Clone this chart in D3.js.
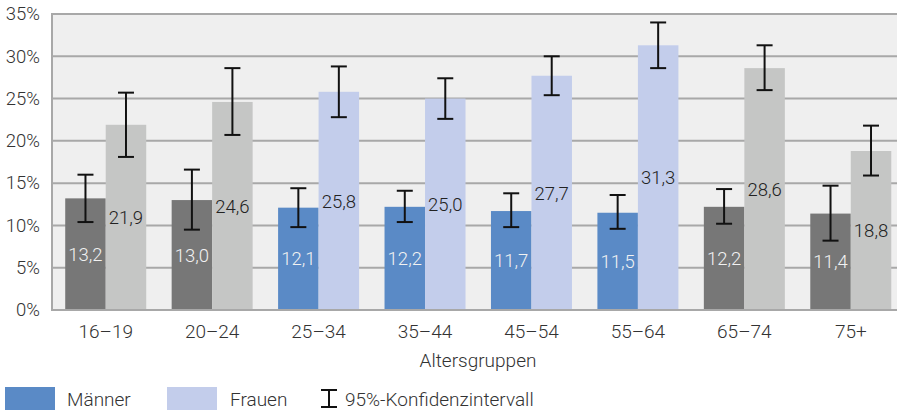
<!DOCTYPE html>
<html><head><meta charset="utf-8">
<script src="https://cdn.jsdelivr.net/npm/d3@7"></script>
<style>
html,body{margin:0;padding:0;background:#fff;}
svg{display:block;font-family:Roboto,"Noto Sans",sans-serif;}
</style></head>
<body><svg id="c" width="897" height="410"></svg>
<script>
const categories = ["16–19","20–24","25–34","35–44","45–54","55–64","65–74","75+"];
const maenner = [13.2,13.0,12.1,12.2,11.7,11.5,12.2,11.4];
const frauen  = [21.9,24.6,25.8,25.0,27.7,31.3,28.6,18.8];
const maennerLo = [10.4,9.5,9.8,10.4,9.8,9.6,10.2,8.2];
const maennerHi = [16.0,16.6,14.4,14.1,13.8,13.6,14.3,14.7];
const frauenLo  = [18.1,20.7,22.8,22.6,25.4,28.6,26.0,15.9];
const frauenHi  = [25.7,28.6,28.8,27.4,30.0,34.0,31.3,21.8];
const highlighted = [false,false,true,true,true,true,false,false];
const yTicks = [0,5,10,15,20,25,30,35];
const fmt = v => v.toFixed(1).replace(".", ",");

(function(){
const svg = d3.select("#c");
const pL = 52, pR = 897, pT = 14, pB = 310;
const y = d3.scaleLinear().domain([0,35]).range([pB, pT]);
const x = d3.scaleBand().domain(categories).range([52.5, 904]).padding(0);
const bw = 40.5;
const FS = 19;

const col = {
  mGray:"#777777", fGray:"#c5c6c5", mBlue:"#5a8ac6", fBlue:"#c3cdeb"
};

svg.append("rect").attr("x",pL).attr("y",pT).attr("width",pR-pL).attr("height",pB-pT).attr("fill","#efefef");

svg.append("g").selectAll("line").data(yTicks).join("line")
  .attr("x1",pL).attr("x2",pR)
  .attr("y1",d=>y(d)).attr("y2",d=>y(d))
  .attr("stroke","#a8a8a8").attr("stroke-width",2);
svg.append("line").attr("x1",pL).attr("x2",pL).attr("y1",pT-1).attr("y2",pB+1)
  .attr("stroke","#a8a8a8").attr("stroke-width",2);

svg.append("g").selectAll("text").data(yTicks).join("text")
  .attr("x",40).attr("y",d=>y(d)).attr("dy","0.34em")
  .attr("text-anchor","end").attr("font-size",18.5).attr("font-weight",300).attr("fill","#333")
  .text(d=>d+"%");

const rows = categories.map((c,i)=>({c, i, m:maenner[i], f:frauen[i], mLo:maennerLo[i], mHi:maennerHi[i], fLo:frauenLo[i], fHi:frauenHi[i], hl:highlighted[i]}));
const cx = d => x(d.c) + x.bandwidth()/2;

const g = svg.append("g");
g.selectAll("rect.m").data(rows).join("rect").attr("class","m")
  .attr("x",d=>cx(d)-bw).attr("width",bw)
  .attr("y",d=>y(d.m)).attr("height",d=>y(0)-y(d.m))
  .attr("fill",d=>d.hl?col.mBlue:col.mGray);
g.selectAll("rect.f").data(rows).join("rect").attr("class","f")
  .attr("x",d=>cx(d)).attr("width",bw)
  .attr("y",d=>y(d.f)).attr("height",d=>y(0)-y(d.f))
  .attr("fill",d=>d.hl?col.fBlue:col.fGray);

svg.append("line").attr("x1",pL).attr("x2",pR).attr("y1",y(0)).attr("y2",y(0))
  .attr("stroke","#a8a8a8").attr("stroke-width",2);

g.selectAll("text.m").data(rows).join("text").attr("class","m")
  .attr("x",d=>cx(d)-bw/2).attr("y",d=>y(d.m/2)).attr("dy","0.36em")
  .attr("text-anchor","middle").attr("font-size",18.5).attr("font-weight",300).attr("fill","#f2f2f2")
  .text(d=>fmt(d.m));
g.selectAll("text.f").data(rows).join("text").attr("class","f")
  .attr("x",d=>cx(d)+bw/2).attr("y",d=>y(d.f/2)).attr("dy","0.36em")
  .attr("text-anchor","middle").attr("font-size",18.5).attr("font-weight",300).attr("fill","#222")
  .text(d=>fmt(d.f));

function errBar(sel, xf, lo, hi){
  const e = sel.append("g").attr("stroke","#111").attr("stroke-width",2);
  e.selectAll("line.v").data(rows).join("line").attr("class","v").attr("x1",xf).attr("x2",xf).attr("y1",d=>y(lo(d))).attr("y2",d=>y(hi(d)));
  e.selectAll("line.t").data(rows).join("line").attr("class","t").attr("x1",d=>xf(d)-8).attr("x2",d=>xf(d)+8).attr("y1",d=>y(hi(d))).attr("y2",d=>y(hi(d)));
  e.selectAll("line.b").data(rows).join("line").attr("class","b").attr("x1",d=>xf(d)-8).attr("x2",d=>xf(d)+8).attr("y1",d=>y(lo(d))).attr("y2",d=>y(lo(d)));
}
errBar(svg, d=>cx(d)-bw/2, d=>d.mLo, d=>d.mHi);
errBar(svg, d=>cx(d)+bw/2, d=>d.fLo, d=>d.fHi);

svg.append("g").selectAll("text").data(rows).join("text")
  .attr("x",cx).attr("y",338).attr("text-anchor","middle")
  .attr("font-size",FS).attr("font-weight",300).attr("fill","#333").text(d=>d.c);

svg.append("text").attr("x",478).attr("y",367).attr("text-anchor","middle")
  .attr("font-size",FS).attr("font-weight",300).attr("fill","#333").text("Altersgruppen");

const lg = svg.append("g");
lg.append("rect").attr("x",5).attr("y",387).attr("width",50).attr("height",23).attr("fill",col.mBlue);
lg.append("text").attr("x",67).attr("y",406).attr("font-size",FS).attr("font-weight",300).attr("fill","#333").text("Männer");
lg.append("rect").attr("x",167).attr("y",387).attr("width",50).attr("height",23).attr("fill",col.fBlue);
lg.append("text").attr("x",230).attr("y",406).attr("font-size",FS).attr("font-weight",300).attr("fill","#333").text("Frauen");
const ic = lg.append("g").attr("stroke","#111").attr("stroke-width",2);
ic.append("line").attr("x1",329).attr("x2",329).attr("y1",390).attr("y2",407);
ic.append("line").attr("x1",321).attr("x2",337).attr("y1",390).attr("y2",390);
ic.append("line").attr("x1",321).attr("x2",337).attr("y1",407).attr("y2",407);
lg.append("text").attr("x",345).attr("y",406).attr("font-size",FS).attr("font-weight",300).attr("fill","#333").text("95%-Konfidenzintervall");
})();
</script></body></html>
